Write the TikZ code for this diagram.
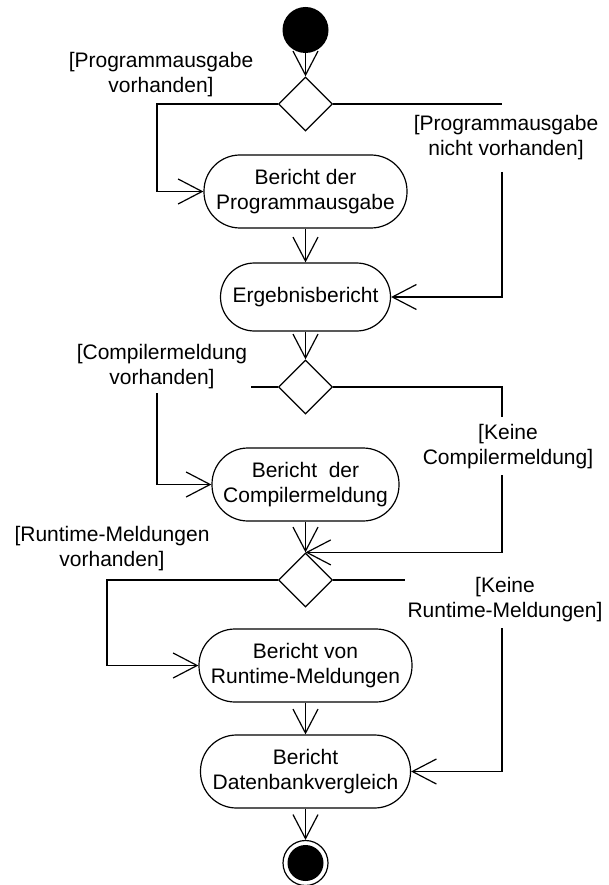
\documentclass[tikz,border=0pt]{standalone}
\usepackage{fontspec}
\setmainfont{Liberation Sans}
\usetikzlibrary{shapes.geometric,arrows.meta}
\begin{document}
\begin{tikzpicture}[x=1pt,y=-1pt,
  txt/.style={font=\fontsize{21}{25}\selectfont, align=center, inner sep=0pt},
  action/.style={txt, draw, line width=1.2pt, rectangle, minimum height=73pt},
  decision/.style={draw, line width=1.2pt, diamond, aspect=1, minimum size=54pt, inner sep=0pt},
  wire/.style={line width=1.2pt},
  flow/.style={line width=1.2pt, -{Straight Barb[length=24pt,width=25pt,line width=1.2pt]}},
  guard/.style={txt}
]
\useasboundingbox (0,0) rectangle (609,885);

% start and end
\node[circle, fill=black, minimum size=46pt, inner sep=0pt] (start) at (305.5,30) {};
\node[circle, draw, line width=1.2pt, minimum size=45pt, inner sep=0pt] (stop) at (305.5,863) {};
\fill (stop.center) circle (18pt);

% decisions
\node[decision] (d1) at (305.5,104) {};
\node[decision] (d2) at (305.5,387) {};
\node[decision] (d3) at (305.5,580) {};

% actions
\node[action, minimum width=203pt, rounded corners=36pt] (n1) at (305.5,191.5) {Bericht der\\Programmausgabe};
\node[action, minimum width=170pt, minimum height=68pt, rounded corners=34pt] (n2) at (305.5,297) {Ergebnisbericht};
\node[action, minimum width=187pt, rounded corners=36pt] (n3) at (305.5,484.5) {Bericht~ der\\Compilermeldung};
\node[action, minimum width=213pt, rounded corners=36pt] (n4) at (305.5,665.5) {Bericht von\\Runtime-Meldungen};
\node[action, minimum width=210pt, rounded corners=36pt] (n5) at (305.5,771.5) {Bericht\\Datenbankvergleich};

% guards
\node[guard] (g1) at (161,75) {[Programmausgabe\\vorhanden]};
\node[guard] (g2) at (506,138) {[Programmausgabe\\nicht vorhanden]};
\node[guard] (g3) at (162,367) {[Compilermeldung\\vorhanden]};
\node[guard] (g4) at (508,447) {[Keine\\Compilermeldung]};
\node[guard] (g5) at (112,549) {[Runtime-Meldungen\\vorhanden]};
\node[guard] (g6) at (505,600) {[Keine\\Runtime-Meldungen]};

% route points around the guards
\coordinate (r1a) at (502,104);
\coordinate (r1b) at (502,172);
\coordinate (l1) at (157,104);
\coordinate (l2a) at (251,387);
\coordinate (l2b) at (157,393);
\coordinate (r2a) at (502,387);
\coordinate (r2a') at (502,417);
\coordinate (r2b) at (502,475);
\coordinate (l3) at (107,580);
\coordinate (r3a) at (405,580);
\coordinate (r3b) at (502,628);

% main line
\draw[flow] (start) -- (d1.north);
\draw[flow] (n1) -- (n2);
\draw[flow] (n2) -- (d2.north);
\draw[flow] (n3) -- (d3.north);
\draw[flow] (n4) -- (n5);
\draw[flow] (n5) -- (stop);

% first decision
\draw[flow] (d1.west) -- (l1) |- (n1.west);
\draw[wire] (d1.east) -- (r1a);
\draw[flow] (r1b) |- (n2.east);

% second decision
\draw[wire] (d2.west) -- (l2a);
\draw[flow] (l2b) |- (n3.west);
\draw[wire] (d2.east) -- (r2a) -- (r2a');
\draw[flow] (r2b) |- (d3.north);

% third decision
\draw[flow] (d3.west) -- (l3) |- (n4.west);
\draw[wire] (d3.east) -- (r3a);
\draw[flow] (r3b) |- (n5.east);
\end{tikzpicture}
\end{document}
